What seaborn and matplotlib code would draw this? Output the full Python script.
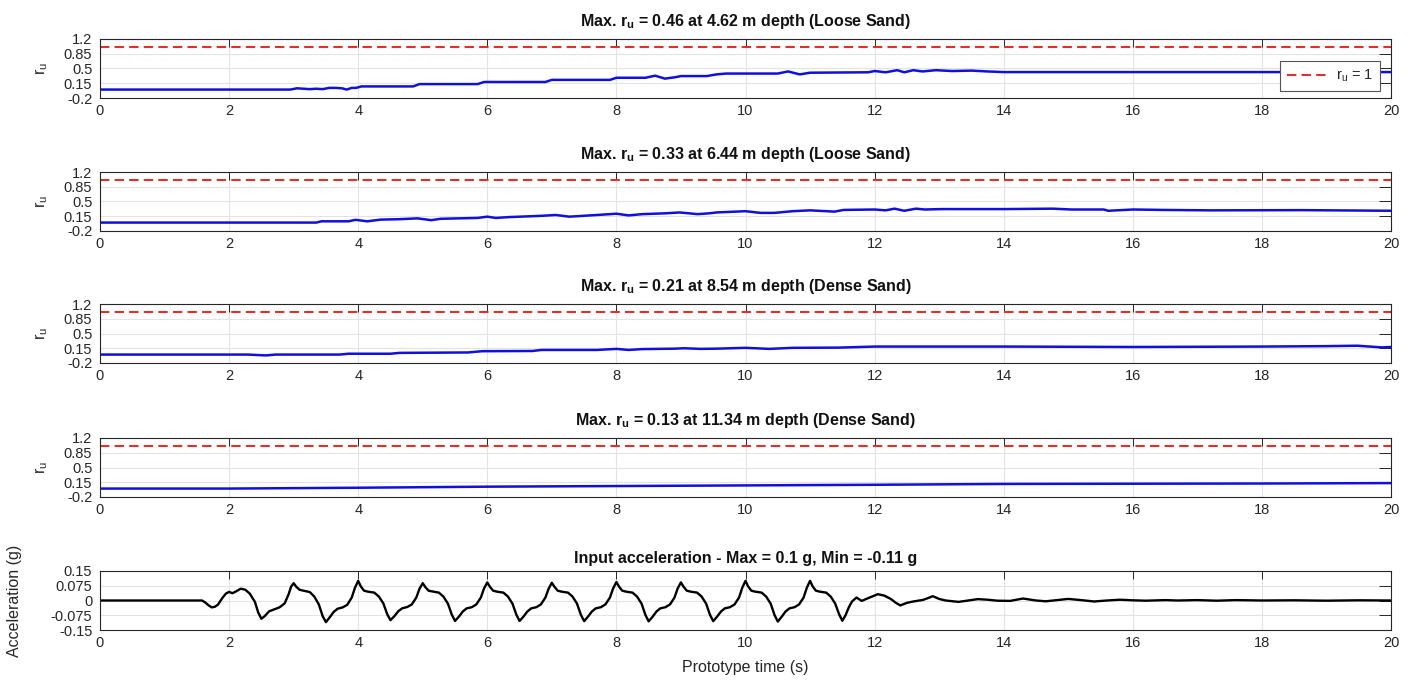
import matplotlib
matplotlib.use("Agg")
import matplotlib.pyplot as plt
import seaborn as sns

# pore pressure ratio r_u (time s, r_u)
ru_462 = [(0, 0.0), (2.95, 0.0), (3.05, 0.03), (3.15, 0.02), (3.25, 0.01), (3.35, 0.02),
          (3.45, 0.01), (3.55, 0.04), (3.65, 0.04), (3.75, 0.03), (3.82, 0.0), (3.9, 0.04),
          (3.97, 0.04), (4.05, 0.075), (4.85, 0.075), (4.95, 0.13), (5.85, 0.13), (5.95, 0.18),
          (6.9, 0.18), (7.0, 0.23), (7.9, 0.23), (8.0, 0.28), (8.45, 0.28), (8.6, 0.33),
          (8.75, 0.26), (8.9, 0.29), (9.0, 0.32), (9.4, 0.32), (9.55, 0.36), (9.7, 0.38),
          (10.5, 0.38), (10.66, 0.43), (10.84, 0.36), (11.0, 0.40), (11.9, 0.41), (12.0, 0.44),
          (12.17, 0.41), (12.35, 0.46), (12.46, 0.41), (12.6, 0.46), (12.74, 0.43), (12.95, 0.46),
          (13.2, 0.44), (13.5, 0.45), (13.75, 0.43), (14.0, 0.415), (20.0, 0.415)]

ru_644 = [(0, 0.0), (3.35, 0.0), (3.43, 0.03), (3.85, 0.03), (3.96, 0.065), (4.14, 0.03),
          (4.35, 0.07), (4.64, 0.08), (4.92, 0.10), (5.13, 0.057), (5.28, 0.09), (5.85, 0.11),
          (6.0, 0.14), (6.13, 0.11), (6.34, 0.13), (6.84, 0.16), (7.06, 0.18), (7.27, 0.14),
          (7.7, 0.18), (8.0, 0.21), (8.19, 0.17), (8.4, 0.2), (8.76, 0.22), (8.98, 0.24),
          (9.26, 0.2), (9.44, 0.22), (9.55, 0.24), (10.0, 0.27), (10.23, 0.23), (10.45, 0.23),
          (10.73, 0.27), (11.0, 0.29), (11.38, 0.26), (11.52, 0.3), (12.0, 0.31), (12.17, 0.29),
          (12.31, 0.33), (12.46, 0.28), (12.64, 0.33), (12.78, 0.31), (13.03, 0.32), (14.0, 0.32),
          (14.76, 0.33), (15.05, 0.31), (15.55, 0.31), (15.62, 0.28), (16.0, 0.31), (16.48, 0.3),
          (17.2, 0.29), (18.63, 0.295), (20.0, 0.28)]

ru_854 = [(0, 0.0), (2.29, 0.0), (2.57, -0.02), (2.72, 0.0), (3.71, 0.0), (3.85, 0.02),
          (4.5, 0.02), (4.64, 0.04), (5.7, 0.05), (5.92, 0.08), (6.7, 0.085), (6.84, 0.11),
          (7.7, 0.11), (8.0, 0.135), (8.19, 0.11), (8.4, 0.13), (8.9, 0.14), (9.05, 0.15),
          (9.3, 0.135), (9.55, 0.14), (10.0, 0.16), (10.37, 0.135), (10.73, 0.16), (11.45, 0.165),
          (12.0, 0.19), (14.0, 0.19), (16.0, 0.18), (18.0, 0.19), (18.98, 0.2), (19.48, 0.21),
          (19.86, 0.17), (20.0, 0.18)]

ru_1134 = [(0, 0.0), (1.3, 0.0), (2.0, 0.0), (4.0, 0.02), (6.0, 0.045), (8.0, 0.06),
           (10.0, 0.075), (12.0, 0.09), (14.0, 0.11), (16.0, 0.115), (18.0, 0.12), (20.0, 0.13)]

# input base acceleration (time s, g)
acc = [(0, 0.0), (1.58, 0.0), (1.63, -0.01), (1.68, -0.024), (1.73, -0.035), (1.78, -0.032),
       (1.83, -0.02), (1.9, 0.015), (1.95, 0.035), (2.0, 0.044), (2.05, 0.037), (2.1, 0.045),
       (2.18, 0.06), (2.25, 0.055), (2.32, 0.035), (2.4, -0.007), (2.45, -0.06), (2.5, -0.093),
       (2.55, -0.08), (2.62, -0.055), (2.7, -0.045), (2.78, -0.035), (2.86, -0.015), (2.92, 0.03),
       (2.96, 0.07), (3.0, 0.088),
       (3.04, 0.07), (3.09, 0.055), (3.15, 0.05), (3.25, 0.043), (3.32, 0.02), (3.39, -0.02),
       (3.45, -0.08), (3.5, -0.11), (3.56, -0.085), (3.62, -0.058), (3.68, -0.042), (3.76, -0.035),
       (3.83, -0.022), (3.9, 0.015), (3.95, 0.065), (4.0, 0.1),
       (4.04, 0.072), (4.09, 0.05), (4.15, 0.045), (4.25, 0.04), (4.32, 0.02), (4.39, -0.015),
       (4.45, -0.07), (4.5, -0.1), (4.56, -0.08), (4.62, -0.055), (4.68, -0.04), (4.76, -0.033),
       (4.83, -0.02), (4.9, 0.015), (4.95, 0.06), (5.0, 0.088),
       (5.04, 0.068), (5.09, 0.05), (5.15, 0.046), (5.25, 0.04), (5.32, 0.02), (5.39, -0.016),
       (5.45, -0.072), (5.5, -0.104), (5.56, -0.082), (5.62, -0.056), (5.68, -0.04), (5.76, -0.034),
       (5.83, -0.02), (5.9, 0.015), (5.95, 0.062), (6.0, 0.092),
       (6.04, 0.07), (6.09, 0.05), (6.15, 0.045), (6.25, 0.04), (6.32, 0.02), (6.39, -0.016),
       (6.45, -0.072), (6.5, -0.104), (6.56, -0.082), (6.62, -0.056), (6.68, -0.04), (6.76, -0.034),
       (6.83, -0.02), (6.9, 0.015), (6.95, 0.06), (7.0, 0.09),
       (7.04, 0.07), (7.09, 0.05), (7.15, 0.045), (7.25, 0.04), (7.32, 0.02), (7.39, -0.016),
       (7.45, -0.073), (7.5, -0.105), (7.56, -0.082), (7.62, -0.056), (7.68, -0.04), (7.76, -0.034),
       (7.83, -0.02), (7.9, 0.015), (7.95, 0.062), (8.0, 0.094),
       (8.04, 0.071), (8.09, 0.05), (8.15, 0.045), (8.25, 0.04), (8.32, 0.02), (8.39, -0.016),
       (8.45, -0.074), (8.5, -0.106), (8.56, -0.083), (8.62, -0.056), (8.68, -0.04), (8.76, -0.034),
       (8.83, -0.02), (8.9, 0.015), (8.95, 0.062), (9.0, 0.092),
       (9.04, 0.07), (9.09, 0.05), (9.15, 0.045), (9.25, 0.04), (9.32, 0.02), (9.39, -0.016),
       (9.45, -0.073), (9.5, -0.105), (9.56, -0.082), (9.62, -0.056), (9.68, -0.04), (9.76, -0.034),
       (9.83, -0.02), (9.9, 0.015), (9.95, 0.065), (10.0, 0.1),
       (10.04, 0.072), (10.09, 0.05), (10.15, 0.045), (10.25, 0.04), (10.32, 0.02), (10.39, -0.016),
       (10.45, -0.074), (10.5, -0.107), (10.56, -0.083), (10.62, -0.056), (10.68, -0.04), (10.76, -0.034),
       (10.83, -0.02), (10.9, 0.015), (10.95, 0.065), (11.0, 0.1),
       (11.04, 0.072), (11.09, 0.05), (11.15, 0.045), (11.25, 0.04), (11.32, 0.02), (11.39, -0.016),
       (11.45, -0.07), (11.5, -0.103), (11.55, -0.075), (11.6, -0.035), (11.65, -0.005),
       (11.72, 0.015), (11.8, -0.002), (11.9, 0.012), (12.05, 0.032), (12.15, 0.025),
       (12.25, 0.008), (12.33, -0.012), (12.4, -0.025), (12.5, -0.012), (12.6, -0.005),
       (12.75, 0.003), (12.85, 0.015), (12.9, 0.022), (13.0, 0.008), (13.1, 0.0), (13.3, -0.007),
       (13.45, 0.0), (13.6, 0.007), (13.75, 0.004), (13.9, -0.001), (14.1, -0.002), (14.3, 0.01),
       (14.5, 0.0), (14.65, -0.004), (14.85, 0.003), (15.0, 0.008), (15.2, 0.002), (15.4, -0.005),
       (15.6, 0.0), (15.8, 0.004), (16.0, 0.001), (16.2, -0.001), (16.5, 0.002), (16.7, 0.0),
       (17.0, 0.002), (17.3, -0.001), (17.6, 0.002), (18.0, 0.0), (18.5, 0.001), (19.0, -0.001),
       (19.5, 0.001), (20.0, 0.0)]

titles = [r"Max. $\mathbf{r_u}$ = 0.46 at 4.62 m depth (Loose Sand)",
          r"Max. $\mathbf{r_u}$ = 0.33 at 6.44 m depth (Loose Sand)",
          r"Max. $\mathbf{r_u}$ = 0.21 at 8.54 m depth (Dense Sand)",
          r"Max. $\mathbf{r_u}$ = 0.13 at 11.34 m depth (Dense Sand)"]
acc_title = "Input acceleration - Max = 0.1 g, Min = -0.11 g"

ru_limit = 1.0
x_ticks = [0, 2, 4, 6, 8, 10, 12, 14, 16, 18, 20]
ru_ticks = [-0.2, 0.15, 0.5, 0.85, 1.2]
ru_ticklabels = ["-0.2", "0.15", "0.5", "0.85", "1.2"]
acc_ticks = [-0.15, -0.075, 0, 0.075, 0.15]
acc_ticklabels = ["-0.15", "-0.075", "0", "0.075", "0.15"]

sns.set_theme(style="whitegrid")
plt.rcParams["font.family"] = ["Liberation Sans", "DejaVu Sans"]
plt.rcParams["mathtext.fontset"] = "custom"
plt.rcParams["mathtext.rm"] = "Liberation Sans"
plt.rcParams["mathtext.it"] = "Liberation Sans"
plt.rcParams["mathtext.bf"] = "Liberation Sans:bold"
plt.rcParams["axes.unicode_minus"] = False

W, H = 1427, 680
fig = plt.figure(figsize=(W / 100, H / 100), dpi=100)
left, right = 100, 1391
tops = [39, 172, 304, 438, 571]
ax_h = 59
tick_fs = 10.5
title_fs = 11.5
label_fs = 11.5


def make_ax(top):
    ax = fig.add_axes([left / W, 1 - (top + ax_h) / H, (right - left) / W, ax_h / H])
    ax.set_facecolor("white")
    for s in ax.spines.values():
        s.set_visible(True)
        s.set_color("#262626")
        s.set_linewidth(0.8)
    ax.grid(True, color="#e3e3e3", linewidth=0.8)
    ax.set_xlim(0, 20)
    ax.set_xticks(x_ticks)
    ax.tick_params(axis="both", direction="in", colors="#262626", labelsize=tick_fs,
                   top=True, right=True, width=0.7)
    ax.tick_params(axis="x", length=5.5, pad=4)
    ax.tick_params(axis="y", length=8.5, pad=5.5)
    return ax


series = [ru_462, ru_644, ru_854, ru_1134]
for i, pts in enumerate(series):
    ax = make_ax(tops[i])
    t, ru = zip(*pts)
    sns.lineplot(x=list(t), y=list(ru), ax=ax, color="#1010dc", linewidth=1.8,
                 estimator=None, sort=False)
    ax.axhline(ru_limit, color="#e0302c", linewidth=1.5, linestyle=(0, (4.5, 2.5)),
               label=r"$\mathrm{r_u}$ = 1")
    ax.set_ylim(-0.2, 1.2)
    ax.set_yticks(ru_ticks)
    ax.set_yticklabels(ru_ticklabels)
    ax.set_title(titles[i], fontsize=title_fs, fontweight="bold", pad=9, color="#111111")
    ax.set_ylabel(r"$\mathrm{r_u}$", fontsize=label_fs, color="#262626")
    ax.yaxis.set_label_coords(-50 / (right - left), 0.5)
    if i == 0:
        leg = ax.legend(loc="lower right", bbox_to_anchor=(0.9915, 0.12), borderaxespad=0,
                        fancybox=False, framealpha=1, edgecolor="#555555", fontsize=tick_fs,
                        handlelength=3.0, handletextpad=0.4, borderpad=0.45)
        leg.get_frame().set_linewidth(0.8)

ax = make_ax(tops[4])
t, g = zip(*acc)
sns.lineplot(x=list(t), y=list(g), ax=ax, color="black", linewidth=1.7,
             estimator=None, sort=False)
ax.set_ylim(-0.15, 0.15)
ax.set_yticks(acc_ticks)
ax.set_yticklabels(acc_ticklabels)
ax.set_title(acc_title, fontsize=title_fs, fontweight="bold", pad=6, color="#111111")
ax.set_ylabel("Acceleration (g)", fontsize=label_fs, color="#262626")
ax.yaxis.set_label_coords(-78 / (right - left), 0.5)
ax.set_xlabel("Prototype time (s)", fontsize=label_fs, color="#262626")
ax.xaxis.set_label_coords(0.5, -(660 - 630) / ax_h)

fig.savefig("out.png", dpi=100)
